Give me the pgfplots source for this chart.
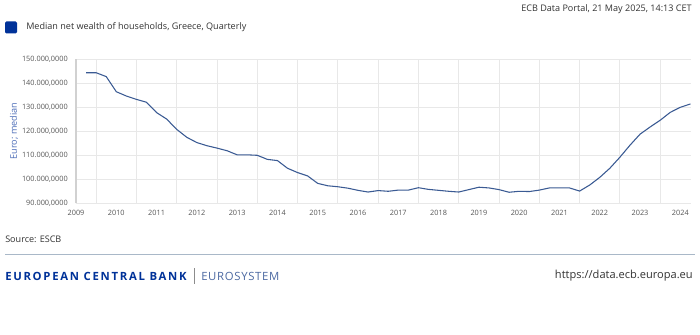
\documentclass[border=0pt]{standalone}
\usepackage{pgfplots}
\pgfplotsset{compat=1.18}
\usepackage{fontspec}
\setmainfont{Open Sans}
\definecolor{ecbblue}{HTML}{003299}
\definecolor{linecol}{HTML}{3A5A93}
\definecolor{gridcol}{HTML}{E8E8E8}
\definecolor{txtgray}{HTML}{555555}
\definecolor{ylab}{HTML}{4B6CB7}
\definecolor{sepcol}{HTML}{A9B8C8}

\pgfplotstableread{
x y
2009.25 144.4
2009.50 144.4
2009.75 142.8
2010.00 136.5
2010.25 134.7
2010.50 133.3
2010.75 132.1
2011.00 127.8
2011.25 125.1
2011.50 120.8
2011.75 117.5
2012.00 115.3
2012.25 114.0
2012.50 113.0
2012.75 111.9
2013.00 110.2
2013.25 110.2
2013.50 110.0
2013.75 108.3
2014.00 107.8
2014.25 104.6
2014.50 102.8
2014.75 101.4
2015.00 98.3
2015.25 97.3
2015.50 96.9
2015.75 96.3
2016.00 95.4
2016.25 94.7
2016.50 95.3
2016.75 95.0
2017.00 95.5
2017.25 95.5
2017.50 96.5
2017.75 95.8
2018.00 95.4
2018.25 95.0
2018.50 94.7
2018.75 95.7
2019.00 96.7
2019.25 96.4
2019.50 95.7
2019.75 94.6
2020.00 95.0
2020.25 94.9
2020.50 95.5
2020.75 96.4
2021.00 96.4
2021.25 96.4
2021.50 95.1
2021.75 97.6
2022.00 100.8
2022.25 104.6
2022.50 109.2
2022.75 114.2
2023.00 118.8
2023.25 121.8
2023.50 124.6
2023.75 127.9
2024.00 130.0
2024.25 131.4
}\wealth

\begin{document}
\begin{tikzpicture}[x=0.75pt,y=-0.75pt]
\fill[white] (0,0) rectangle (700,335);
% header
\fill[ecbblue, rounded corners=1pt] (5,21.5) rectangle (17,33.5);
\node[anchor=west, inner sep=0pt, font=\fontsize{6.8}{8}\selectfont, text=black!80] at (26,27.5) {Median net wealth of households, Greece, Quarterly};
\node[anchor=east, inner sep=0pt, font=\fontsize{6.8}{8}\selectfont, text=black!80] at (692,9) {ECB Data Portal, 21 May 2025, 14:13 CET};
% y label
\node[rotate=90, inner sep=0pt, font=\fontsize{6.8}{8}\selectfont, text=ylab] at (14,131) {Euro; median};
\begin{axis}[
  at={(57pt,-152.475pt)}, anchor=south west,
  scale only axis, width=461.1pt, height=108pt,
  xmin=2009, xmax=2024.26, ymin=90, ymax=150,
  separate axis lines, axis lines*=left,
  x axis line style={draw=none},
  y axis line style={draw=black!18, line width=1.2pt},
  xtick={2009,2010,...,2024},
  xticklabels={2009,2010,2011,2012,2013,2014,2015,2016,2017,2018,2019,2020,2021,2022,2023,2024},
  minor xtick={2009.5,2010.5,...,2023.5},
  ytick={90,100,...,150},
  yticklabels={{90.000,0000},{100.000,0000},{110.000,0000},{120.000,0000},{130.000,0000},{140.000,0000},{150.000,0000}},
  major tick length=0pt, minor tick length=0pt,
  ymajorgrids=true, xminorgrids=true, xmajorgrids=false,
  major grid style={gridcol, line width=0.6pt},
  minor grid style={gridcol, line width=0.6pt},
  tick label style={font=\fontsize{5.5}{6}\selectfont, text=txtgray, inner sep=0pt},
  xticklabel style={anchor=center, yshift=-7.3pt},
  yticklabel style={anchor=east, xshift=-6pt},
  clip=false,
]
\addplot[linecol, line width=0.8pt] table[x=x,y=y] {\wealth};
\end{axis}
% source
\node[anchor=west, inner sep=0pt, font=\fontsize{6.8}{8}\selectfont, text=black!80] at (5,239) {Source: ESCB};
\draw[sepcol, line width=1.1pt] (5,254.5) -- (695,254.5);
% footer
\node[anchor=west, inner sep=0pt, font=\fontsize{8.5}{10}\selectfont\bfseries\addfontfeatures{LetterSpace=15}, text=ecbblue] (ecb) at (5,276) {EUROPEAN CENTRAL BANK};
\draw[black!45, line width=0.5pt] (194,268) -- (194,284);
\node[anchor=west, inner sep=0pt, font=\fontsize{8.5}{10}\selectfont\addfontfeatures{LetterSpace=6}, text=ecbblue!80!black!70] at (201,276) {EUROSYSTEM};
\node[anchor=east, inner sep=0pt, font=\fontsize{8.3}{10}\selectfont, text=black!80] at (693,276) {https://data.ecb.europa.eu};
\end{tikzpicture}
\end{document}
